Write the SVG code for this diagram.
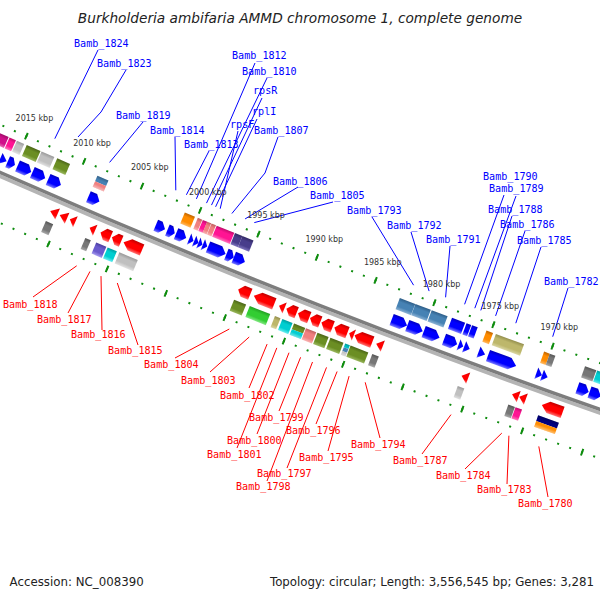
<svg xmlns="http://www.w3.org/2000/svg" width="600" height="600" viewBox="0 0 600 600">
<defs>
<linearGradient id="gB" x2="0" y2="1"><stop offset="0" stop-color="#0000c0"/><stop offset=".3" stop-color="#00f"/><stop offset=".7" stop-color="#00f"/><stop offset="1" stop-color="#8080ff"/></linearGradient>
<linearGradient id="gR" x2="0" y2="1"><stop offset="0" stop-color="#c00000"/><stop offset=".3" stop-color="#f00"/><stop offset=".7" stop-color="#f00"/><stop offset="1" stop-color="#ff7777"/></linearGradient>
<linearGradient id="gSB" x2="0" y2="1"><stop offset="0" stop-color="#2e5e88"/><stop offset=".3" stop-color="#4682b4"/><stop offset=".7" stop-color="#4682b4"/><stop offset="1" stop-color="#8cb2d4"/></linearGradient>
<linearGradient id="gLC" x2="0" y2="1"><stop offset="0" stop-color="#c06060"/><stop offset=".3" stop-color="#f08080"/><stop offset=".7" stop-color="#f08080"/><stop offset="1" stop-color="#f8b4b4"/></linearGradient>
<linearGradient id="gOR" x2="0" y2="1"><stop offset="0" stop-color="#c06400"/><stop offset=".3" stop-color="#ff8c00"/><stop offset=".7" stop-color="#ff8c00"/><stop offset="1" stop-color="#ffbb66"/></linearGradient>
<linearGradient id="gDP" x2="0" y2="1"><stop offset="0" stop-color="#c00c6c"/><stop offset=".3" stop-color="#ff1493"/><stop offset=".7" stop-color="#ff1493"/><stop offset="1" stop-color="#ff78bc"/></linearGradient>
<linearGradient id="gMV" x2="0" y2="1"><stop offset="0" stop-color="#a00a68"/><stop offset=".3" stop-color="#d0108a"/><stop offset=".7" stop-color="#d0108a"/><stop offset="1" stop-color="#e870b8"/></linearGradient>
<linearGradient id="gDSB" x2="0" y2="1"><stop offset="0" stop-color="#332a66"/><stop offset=".3" stop-color="#483d8b"/><stop offset=".7" stop-color="#483d8b"/><stop offset="1" stop-color="#7e74bc"/></linearGradient>
<linearGradient id="gLG" x2="0" y2="1"><stop offset="0" stop-color="#9a9a9a"/><stop offset=".3" stop-color="#c0c0c0"/><stop offset=".7" stop-color="#c0c0c0"/><stop offset="1" stop-color="#e2e2e2"/></linearGradient>
<linearGradient id="gGR" x2="0" y2="1"><stop offset="0" stop-color="#555"/><stop offset=".3" stop-color="#777"/><stop offset=".7" stop-color="#777"/><stop offset="1" stop-color="#aaa"/></linearGradient>
<linearGradient id="gOD" x2="0" y2="1"><stop offset="0" stop-color="#4c6618"/><stop offset=".3" stop-color="#6b8e23"/><stop offset=".7" stop-color="#6b8e23"/><stop offset="1" stop-color="#9bb860"/></linearGradient>
<linearGradient id="gLM" x2="0" y2="1"><stop offset="0" stop-color="#22a022"/><stop offset=".3" stop-color="#32cd32"/><stop offset=".7" stop-color="#32cd32"/><stop offset="1" stop-color="#88e888"/></linearGradient>
<linearGradient id="gDK" x2="0" y2="1"><stop offset="0" stop-color="#948f4e"/><stop offset=".3" stop-color="#bdb76b"/><stop offset=".7" stop-color="#bdb76b"/><stop offset="1" stop-color="#dad6a4"/></linearGradient>
<linearGradient id="gDT" x2="0" y2="1"><stop offset="0" stop-color="#009ea0"/><stop offset=".3" stop-color="#00ced1"/><stop offset=".7" stop-color="#00ced1"/><stop offset="1" stop-color="#70eef0"/></linearGradient>
<linearGradient id="gMSB" x2="0" y2="1"><stop offset="0" stop-color="#4c3fa0"/><stop offset=".3" stop-color="#6a5acd"/><stop offset=".7" stop-color="#6a5acd"/><stop offset="1" stop-color="#a79df0"/></linearGradient>
<linearGradient id="gSH" x2="0" y2="1"><stop offset="0" stop-color="#000" stop-opacity=".25"/><stop offset=".3" stop-color="#000" stop-opacity="0"/><stop offset=".7" stop-color="#fff" stop-opacity="0"/><stop offset="1" stop-color="#fff" stop-opacity=".45"/></linearGradient>
</defs>
<style>
.lb{font-family:"DejaVu Sans Mono",monospace;font-size:10.1px}
.b{fill:#00f}
.r{fill:#f00}
.kb{font-family:"DejaVu Sans",sans-serif;font-size:8px;fill:#333;text-anchor:middle}
.tk{fill:none;stroke:#0e8c0e}
.lnb{fill:none;stroke:#00f;stroke-width:1}
.lnr{fill:none;stroke:#f00;stroke-width:1}
</style>
<rect width="600" height="600" fill="#fff"/>
<text x="300" y="23" font-family="DejaVu Sans, sans-serif" font-style="italic" font-size="13.7" fill="#222" text-anchor="middle">Burkholderia ambifaria AMMD chromosome 1, complete genome</text>

<g id="ticks">
<path class="tk" stroke-width="2" stroke-dasharray="2 10.5925" stroke-dashoffset="1" d="M-31.15 110.65A8158 8158 0 0 0 671.34 387.86"/>
<path class="tk" stroke-width="7" stroke-dasharray="2 60.9625" stroke-dashoffset="1" d="M-31.15 110.65A8158 8158 0 0 0 671.34 387.86"/>
<path class="tk" stroke-width="2" stroke-dasharray="2 10.7314" stroke-dashoffset="1" d="M-68.03 192.74A8248 8248 0 0 0 642.2 473.01"/>
<path class="tk" stroke-width="7" stroke-dasharray="2 61.657" stroke-dashoffset="1" d="M-68.03 192.74A8248 8248 0 0 0 642.2 473.01"/>
</g>

<g id="backbone" fill="none">
<path stroke="#b4b4b4" stroke-width="3.5" d="M-50.51 153.74A8205.25 8205.25 0 0 0 656.05 432.57"/>
<path stroke="#7d7d7d" stroke-width="3.5" d="M-49.08 150.55A8201.75 8201.75 0 0 0 657.18 429.26"/>
</g>

<g id="features" transform="translate(3312 -7331)">
<g id="f1" transform="rotate(23.91)"><path fill="url(#gB)" d="M-7 8183H2L7 8189L2 8195H-7Z"/><rect fill="url(#gMV)" x="-7" y="8166" width="14" height="12"/></g>
<g id="f2" transform="rotate(23.83)"><path fill="url(#gB)" d="M-3.5 8183L3.5 8189L-3.5 8195Z"/><rect fill="url(#gDP)" x="-3.5" y="8166" width="7" height="12"/></g>
<g id="f3" transform="rotate(23.77)"><path fill="url(#gB)" d="M-4 8183H0L4 8189L0 8195H-4Z"/><rect fill="url(#gLG)" x="-4" y="8166" width="8" height="12"/></g>
<g id="f4" transform="rotate(23.67)"><path fill="url(#gB)" d="M-7.5 8183H2.5L7.5 8189L2.5 8195H-7.5Z"/><rect fill="url(#gOD)" x="-7.5" y="8166" width="15" height="12"/></g>
<g id="f5-Bamb_1824" transform="rotate(23.56)"><path fill="url(#gB)" d="M-7 8183H2L7 8189L2 8195H-7Z"/><rect fill="url(#gLG)" x="-7" y="8166" width="14" height="12"/></g>
<g id="f6-Bamb_1823" transform="rotate(23.44)"><path fill="url(#gB)" d="M-7 8183H2L7 8189L2 8195H-7Z"/><rect fill="url(#gOD)" x="-7" y="8166" width="14" height="12"/></g>
<g id="f7-Bamb_1819" transform="rotate(23.14)"><path fill="url(#gB)" d="M-6 8183H1L6 8189L1 8195H-6Z"/><rect fill="#4682b4" x="-6" y="8166" width="12" height="6"/><rect fill="#f08080" x="-6" y="8172" width="12" height="6"/><rect fill="url(#gSH)" x="-6" y="8166" width="12" height="12"/></g>
<g id="f8-Bamb_1814" transform="rotate(22.635)"><path fill="url(#gB)" d="M-5 8183H0L5 8189L0 8195H-5Z"/></g>
<g id="f9-Bamb_1813" transform="rotate(22.554)"><path fill="url(#gB)" d="M-4 8183H0L4 8189L0 8195H-4Z"/></g>
<g id="f10-Bamb_1812" transform="rotate(22.478)"><path fill="url(#gB)" d="M-5.5 8183H0.5L5.5 8189L0.5 8195H-5.5Z"/><rect fill="url(#gOR)" x="-5.5" y="8166" width="11" height="12"/></g>
<g id="f11-Bamb_1810" transform="rotate(22.401)"><path fill="url(#gB)" d="M-2.4 8183L2.4 8189L-2.4 8195Z"/><rect fill="url(#gLC)" x="-2.4" y="8166" width="4.8" height="12"/></g>
<g id="f12-rpsR" transform="rotate(22.363)"><path fill="url(#gB)" d="M-2.4 8183L2.4 8189L-2.4 8195Z"/><rect fill="url(#gDP)" x="-2.4" y="8166" width="4.8" height="12"/></g>
<g id="f13-rplI" transform="rotate(22.332)"><path fill="url(#gB)" d="M-2.2 8183L2.2 8189L-2.2 8195Z"/><rect fill="url(#gLC)" x="-2.2" y="8166" width="4.4" height="12"/></g>
<g id="f14-rpsF" transform="rotate(22.297)"><path fill="url(#gB)" d="M-2.4 8183L2.4 8189L-2.4 8195Z"/><rect fill="url(#gLC)" x="-2.4" y="8166" width="4.8" height="12"/></g>
<g id="f15-Bamb_1807" transform="rotate(22.208)"><path fill="url(#gB)" d="M-9.5 8183H3.5L9.5 8189L3.5 8195H-9.5Z"/><rect fill="url(#gDP)" x="-9.5" y="8166" width="19" height="12"/></g>
<g id="f16-Bamb_1806" transform="rotate(22.108)"><path fill="url(#gB)" d="M-4 8183H0L4 8189L0 8195H-4Z"/><rect fill="url(#gDSB)" x="-4" y="8166" width="8" height="12"/></g>
<g id="f17-Bamb_1805" transform="rotate(22.038)"><path fill="url(#gB)" d="M-6 8183H1L6 8189L1 8195H-6Z"/><rect fill="url(#gDSB)" x="-6" y="8166" width="12" height="12"/></g>
<g id="f18-Bamb_1793" transform="rotate(20.835)"><path fill="url(#gB)" d="M-8.25 8183H2.25L8.25 8189L2.25 8195H-8.25Z"/><rect fill="url(#gSB)" x="-8.25" y="8166" width="16.5" height="12"/></g>
<g id="f19-Bamb_1792" transform="rotate(20.718)"><path fill="url(#gB)" d="M-8.25 8183H2.25L8.25 8189L2.25 8195H-8.25Z"/><rect fill="url(#gSB)" x="-8.25" y="8166" width="16.5" height="12"/></g>
<g id="f20-Bamb_1791" transform="rotate(20.594)"><path fill="url(#gB)" d="M-8.5 8183H2.5L8.5 8189L2.5 8195H-8.5Z"/><rect fill="url(#gSB)" x="-8.5" y="8166" width="17" height="12"/></g>
<g id="f21-Bamb_1790" transform="rotate(20.452)"><path fill="url(#gB)" d="M-7 8183H2L7 8189L2 8195H-7Z"/><rect fill="url(#gB)" x="-7" y="8166" width="14" height="12"/></g>
<g id="f22-Bamb_1789" transform="rotate(20.375)"><path fill="url(#gB)" d="M-2.5 8183L2.5 8189L-2.5 8195Z"/><rect fill="url(#gB)" x="-2.5" y="8166" width="5" height="12"/></g>
<g id="f23-Bamb_1788" transform="rotate(20.33)"><path fill="url(#gB)" d="M-3 8183L3 8189L-3 8195Z"/><rect fill="url(#gB)" x="-3" y="8166" width="6" height="12"/></g>
<g id="f24-Bamb_1786" transform="rotate(20.219)"><path fill="url(#gB)" d="M-3.5 8183L3.5 8189L-3.5 8195Z"/><rect fill="url(#gOR)" x="-3.5" y="8166" width="7" height="12"/></g>
<g id="f25-Bamb_1785" transform="rotate(20.068)"><path fill="url(#gB)" d="M-15 8183H8L15 8189L8 8195H-15Z"/><rect fill="url(#gDK)" x="-15" y="8166" width="30" height="12"/></g>
<g id="f26-Bamb_1782" transform="rotate(19.792)"><path fill="url(#gB)" d="M-3 8183L3 8189L-3 8195Z"/><rect fill="url(#gOR)" x="-3" y="8166" width="6" height="12"/></g>
<g id="f27" transform="rotate(19.75)"><path fill="url(#gB)" d="M-3 8183L3 8189L-3 8195Z"/><rect fill="url(#gGR)" x="-3" y="8166" width="6" height="12"/></g>
<g id="f28" transform="rotate(19.466)"><path fill="url(#gB)" d="M-6 8183H1L6 8189L1 8195H-6Z"/><rect fill="url(#gGR)" x="-6" y="8166" width="12" height="12"/></g>
<g id="f29" transform="rotate(19.376)"><path fill="url(#gB)" d="M-6 8183H1L6 8189L1 8195H-6Z"/><rect fill="url(#gDT)" x="-6" y="8166" width="12" height="12"/></g>

<g id="r1" transform="rotate(23.36)"><path fill="url(#gR)" d="M4 8211L-4 8217L4 8223Z"/><rect fill="url(#gGR)" x="-4" y="8228" width="8" height="12"/></g>
<g id="r2" transform="rotate(23.288)"><path fill="url(#gR)" d="M4 8211L-4 8217L4 8223Z"/></g>
<g id="r3" transform="rotate(23.218)"><path fill="url(#gR)" d="M3 8211L-3 8217L3 8223Z"/></g>
<g id="r4-Bamb_1818" transform="rotate(23.068)"><path fill="url(#gR)" d="M3 8211L-3 8217L3 8223Z"/><rect fill="url(#gGR)" x="-3" y="8228" width="6" height="12"/></g>
<g id="r5-Bamb_1817" transform="rotate(22.968)"><path fill="url(#gR)" d="M5.5 8211H-0.5L-5.5 8217L-0.5 8223H5.5Z"/><rect fill="url(#gMSB)" x="-5.5" y="8228" width="11" height="12"/></g>
<g id="r6-Bamb_1816" transform="rotate(22.885)"><path fill="url(#gR)" d="M5 8211H0L-5 8217L0 8223H5Z"/><rect fill="url(#gDT)" x="-5" y="8228" width="10" height="12"/></g>
<g id="r7-Bamb_1815" transform="rotate(22.762)"><path fill="url(#gR)" d="M10 8211H-3L-10 8217L-3 8223H10Z"/><rect fill="url(#gLG)" x="-10" y="8228" width="20" height="12"/></g>
<g id="r8-Bamb_1804" transform="rotate(21.922)"><path fill="url(#gR)" d="M6.5 8211H-1.5L-6.5 8217L-1.5 8223H6.5Z"/><rect fill="url(#gOD)" x="-6.5" y="8228" width="13" height="12"/></g>
<g id="r9-Bamb_1803" transform="rotate(21.773)"><path fill="url(#gR)" d="M11 8211H-4L-11 8217L-4 8223H11Z"/><rect fill="url(#gLM)" x="-11" y="8228" width="22" height="12"/></g>
<g id="r10-Bamb_1802" transform="rotate(21.64)"><path fill="url(#gR)" d="M3 8211L-3 8217L3 8223Z"/><rect fill="url(#gDK)" x="-3" y="8228" width="6" height="12"/></g>
<g id="r11-Bamb_1801" transform="rotate(21.567)"><path fill="url(#gR)" d="M5.5 8211H-0.5L-5.5 8217L-0.5 8223H5.5Z"/><rect fill="url(#gDT)" x="-5.5" y="8228" width="11" height="12"/></g>
<g id="r12-Bamb_1800" transform="rotate(21.476)"><path fill="url(#gR)" d="M6 8211H-1L-6 8217L-1 8223H6Z"/><rect fill="#6b8e23" x="-6" y="8228" width="12" height="6"/><rect fill="#00ced1" x="-6" y="8234" width="12" height="6"/><rect fill="url(#gSH)" x="-6" y="8228" width="12" height="12"/></g>
<g id="r13-Bamb_1799" transform="rotate(21.39)"><path fill="url(#gR)" d="M5.5 8211H-0.5L-5.5 8217L-0.5 8223H5.5Z"/><rect fill="url(#gLC)" x="-5.5" y="8228" width="11" height="12"/></g>
<g id="r14-Bamb_1798" transform="rotate(21.301)"><path fill="url(#gR)" d="M6 8211H-1L-6 8217L-1 8223H6Z"/><rect fill="url(#gOD)" x="-6" y="8228" width="12" height="12"/></g>
<g id="r15-Bamb_1797" transform="rotate(21.197)"><path fill="url(#gR)" d="M7 8211H-2L-7 8217L-2 8223H7Z"/><rect fill="url(#gOD)" x="-7" y="8228" width="14" height="12"/></g>
<g id="r16-Bamb_1796" transform="rotate(21.118)"><path fill="url(#gR)" d="M2.5 8211L-2.5 8217L2.5 8223Z"/><rect fill="#00ced1" x="-2.5" y="8228" width="5" height="4"/><rect fill="#4682b4" x="-2.5" y="8232" width="5" height="4"/><rect fill="#c0c0c0" x="-2.5" y="8236" width="5" height="4"/><rect fill="url(#gSH)" x="-2.5" y="8228" width="5" height="12"/></g>
<g id="r17-Bamb_1795" transform="rotate(21.029)"><path fill="url(#gR)" d="M9.5 8211H-3.5L-9.5 8217L-3.5 8223H9.5Z"/><rect fill="url(#gOD)" x="-9.5" y="8228" width="19" height="12"/></g>
<g id="r18-Bamb_1794" transform="rotate(20.909)"><path fill="url(#gR)" d="M3.5 8211L-3.5 8217L3.5 8223Z"/><rect fill="url(#gGR)" x="-3.5" y="8228" width="7" height="12"/></g>
<g id="r19-Bamb_1787" transform="rotate(20.273)"><path fill="url(#gR)" d="M3.5 8211L-3.5 8217L3.5 8223Z"/><rect fill="url(#gLG)" x="-3.5" y="8228" width="7" height="12"/></g>
<g id="r20-Bamb_1784" transform="rotate(19.898)"><path fill="url(#gR)" d="M3.5 8211L-3.5 8217L3.5 8223Z"/><rect fill="url(#gGR)" x="-3.5" y="8228" width="7" height="12"/></g>
<g id="r21-Bamb_1783" transform="rotate(19.845)"><path fill="url(#gR)" d="M3.5 8211L-3.5 8217L3.5 8223Z"/><rect fill="url(#gDP)" x="-3.5" y="8228" width="7" height="12"/></g>
<g id="r22-Bamb_1780" transform="rotate(19.625)"><path fill="url(#gR)" d="M11 8211H-4L-11 8217L-4 8223H11Z"/><rect fill="#000080" x="-11" y="8228" width="22" height="6"/><rect fill="#ff8c00" x="-11" y="8234" width="22" height="6"/><rect fill="url(#gSH)" x="-11" y="8228" width="22" height="12"/></g>
</g>

<g id="connectors">
<polyline class="lnb" points="98,50 54.8,138.7"/>
<polyline class="lnb" points="126,70 101,112 78,137"/>
<polyline class="lnb" points="143,122 109.6,162.4"/>
<polyline class="lnb" points="175,137 175.8,190.3"/>
<polyline class="lnb" points="209,151 186.4,194.8"/>
<polyline class="lnb" points="255,63 196.4,198.9"/>
<polyline class="lnb" points="267,78 206.5,203.1"/>
<polyline class="lnb" points="262,98 211.5,205.1"/>
<polyline class="lnb" points="257,119 215.6,206.8"/>
<polyline class="lnb" points="238,131 220.2,208.7"/>
<polyline class="lnb" points="278,137 265,173 231.9,213.5"/>
<polyline class="lnb" points="298,187 245.1,218.9"/>
<polyline class="lnb" points="333,202 254.3,222.6"/>
<polyline class="lnb" points="372,217 413.6,285.2"/>
<polyline class="lnb" points="411,232 429.1,291.1"/>
<polyline class="lnb" points="450,246 445.6,297.3"/>
<polyline class="lnb" points="504,195 464.6,304.3"/>
<polyline class="lnb" points="516,196 474.8,308.2"/>
<polyline class="lnb" points="512,216 480.8,310.4"/>
<polyline class="lnb" points="525,231 495.6,315.9"/>
<polyline class="lnb" points="541,247 515.8,323.2"/>
<polyline class="lnb" points="568,288 552.7,336.7"/>
<polyline class="lnr" points="33,297 76.7,265.8"/>
<polyline class="lnr" points="68,313 90,271.4"/>
<polyline class="lnr" points="102,330 101,276.1"/>
<polyline class="lnr" points="138,345 117.3,283"/>
<polyline class="lnr" points="175,358 229.3,329"/>
<polyline class="lnr" points="210,372 249.2,337"/>
<polyline class="lnr" points="249,388 267.1,344.1"/>
<polyline class="lnr" points="237,448 276.8,347.9"/>
<polyline class="lnr" points="257,434 289,352.7"/>
<polyline class="lnr" points="279,411 300.6,357.3"/>
<polyline class="lnr" points="267,481 312.5,362"/>
<polyline class="lnr" points="287,468 326.5,367.4"/>
<polyline class="lnr" points="316,424 337.1,371.5"/>
<polyline class="lnr" points="328,451 349.1,376.1"/>
<polyline class="lnr" points="380,438 365.2,382.3"/>
<polyline class="lnr" points="422,454 451,414.6"/>
<polyline class="lnr" points="465,469 501.8,433.1"/>
<polyline class="lnr" points="507,484 508.9,435.7"/>
<polyline class="lnr" points="548,497 538.8,446.4"/>
</g>

<g id="kbp-labels">
<text class="kb" x="34.4" y="120.8">2015 kbp</text>
<text class="kb" x="92.1" y="145.8">2010 kbp</text>
<text class="kb" x="149.8" y="170.4">2005 kbp</text>
<text class="kb" x="207.8" y="194.6">2000 kbp</text>
<text class="kb" x="266" y="218.3">1995 kbp</text>
<text class="kb" x="324.3" y="241.6">1990 kbp</text>
<text class="kb" x="382.8" y="264.5">1985 kbp</text>
<text class="kb" x="441.5" y="286.8">1980 kbp</text>
<text class="kb" x="500.3" y="308.8">1975 kbp</text>
<text class="kb" x="559.3" y="330.3">1970 kbp</text>
</g>

<g id="gene-labels" class="lb">
<text class="b" x="74" y="47">Bamb_1824</text>
<text class="b" x="97" y="67">Bamb_1823</text>
<text class="b" x="116" y="119">Bamb_1819</text>
<text class="b" x="150" y="134">Bamb_1814</text>
<text class="b" x="184" y="148">Bamb_1813</text>
<text class="b" x="232" y="59">Bamb_1812</text>
<text class="b" x="242" y="75">Bamb_1810</text>
<text class="b" x="253" y="94">rpsR</text>
<text class="b" x="252" y="115">rplI</text>
<text class="b" x="230" y="128">rpsF</text>
<text class="b" x="254" y="134">Bamb_1807</text>
<text class="b" x="273" y="185">Bamb_1806</text>
<text class="b" x="310" y="199">Bamb_1805</text>
<text class="b" x="347" y="214">Bamb_1793</text>
<text class="b" x="387" y="229">Bamb_1792</text>
<text class="b" x="426" y="243">Bamb_1791</text>
<text class="b" x="483" y="180">Bamb_1790</text>
<text class="b" x="489" y="192">Bamb_1789</text>
<text class="b" x="488" y="213">Bamb_1788</text>
<text class="b" x="500" y="228">Bamb_1786</text>
<text class="b" x="517" y="244">Bamb_1785</text>
<text class="b" x="544" y="285">Bamb_1782</text>
<text class="r" x="3" y="308">Bamb_1818</text>
<text class="r" x="37" y="323">Bamb_1817</text>
<text class="r" x="71" y="338">Bamb_1816</text>
<text class="r" x="108" y="354">Bamb_1815</text>
<text class="r" x="144" y="368">Bamb_1804</text>
<text class="r" x="181" y="384">Bamb_1803</text>
<text class="r" x="220" y="399">Bamb_1802</text>
<text class="r" x="249" y="421">Bamb_1799</text>
<text class="r" x="286" y="434">Bamb_1796</text>
<text class="r" x="227" y="444">Bamb_1800</text>
<text class="r" x="351" y="448">Bamb_1794</text>
<text class="r" x="207" y="458">Bamb_1801</text>
<text class="r" x="299" y="461">Bamb_1795</text>
<text class="r" x="393" y="464">Bamb_1787</text>
<text class="r" x="257" y="477">Bamb_1797</text>
<text class="r" x="436" y="479">Bamb_1784</text>
<text class="r" x="236" y="490">Bamb_1798</text>
<text class="r" x="477" y="493">Bamb_1783</text>
<text class="r" x="518" y="507">Bamb_1780</text>
</g>

<g id="footer" font-family="DejaVu Sans, sans-serif" font-size="11.8" fill="#222">
<text x="9.6" y="586">Accession: NC_008390</text>
<text x="594" y="586" text-anchor="end">Topology: circular; Length: 3,556,545 bp; Genes: 3,281</text>
</g>
</svg>
